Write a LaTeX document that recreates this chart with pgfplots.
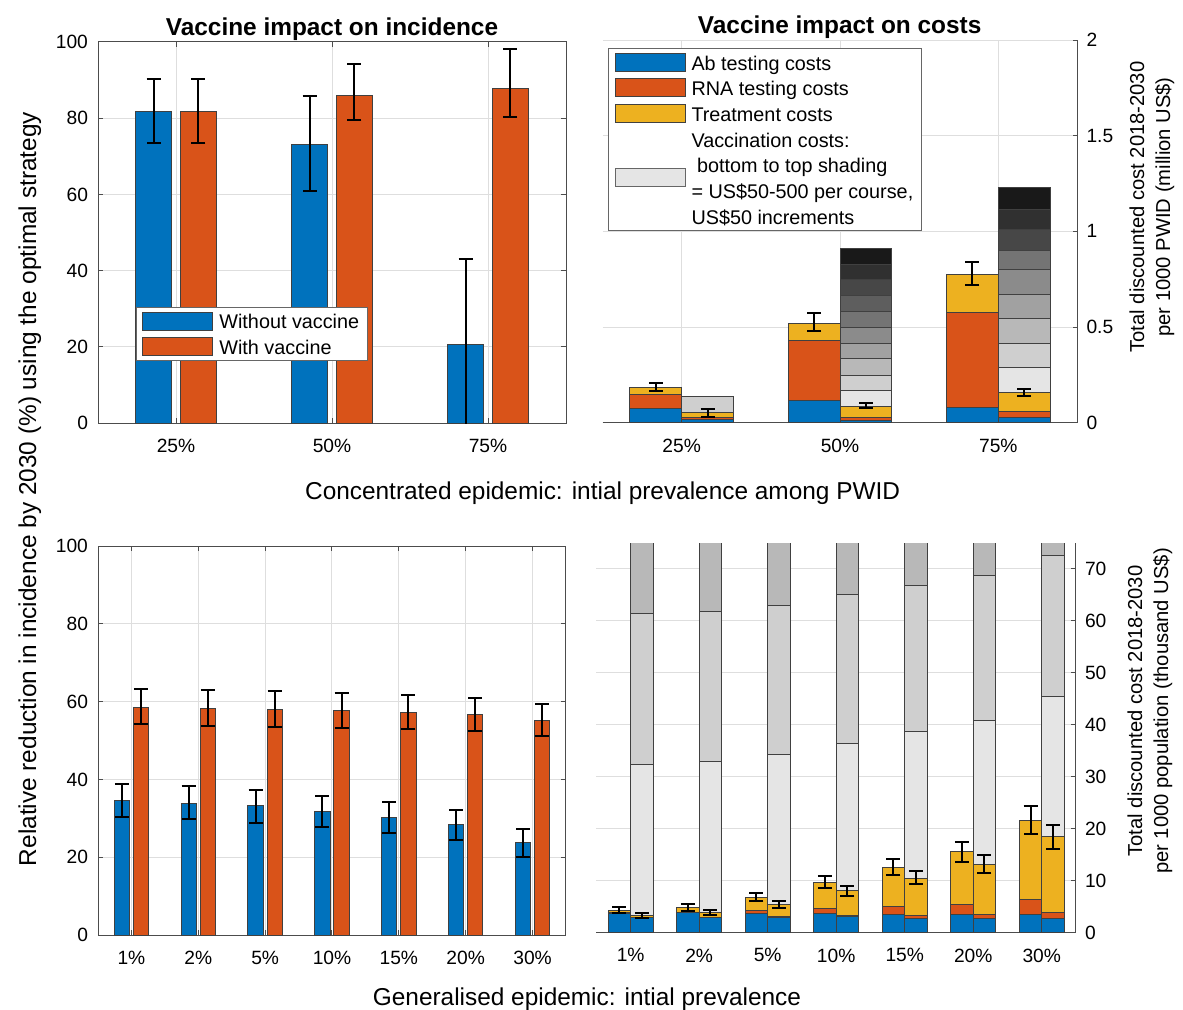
\documentclass[border=0pt]{standalone}
\usepackage{pgfplots}
\pgfplotsset{compat=1.18}
\usepackage{fontspec}
\setmainfont{Liberation Sans}
\definecolor{mblue}{RGB}{0,114,189}
\definecolor{morange}{RGB}{217,83,25}
\definecolor{myellow}{RGB}{237,177,32}
\definecolor{g1}{gray}{0.9}
\definecolor{g2}{gray}{0.811}
\definecolor{g3}{gray}{0.722}
\definecolor{g4}{gray}{0.633}
\definecolor{g5}{gray}{0.544}
\definecolor{g6}{gray}{0.456}
\definecolor{g7}{gray}{0.367}
\definecolor{g8}{gray}{0.278}
\definecolor{g9}{gray}{0.189}
\definecolor{g10}{gray}{0.1}
\definecolor{axc}{gray}{0.3}
\definecolor{gridc}{gray}{0.87}
\newcommand\lstrut{\rule[-3.6pt]{0pt}{12.85pt}}
\pgfplotsset{
  common/.style={
    scale only axis, anchor=south west,
    axis line style={draw=axc, line width=0.5pt},
    tick style={draw=axc, line width=0.5pt},
    major tick length=2.5pt,
    tick align=inside,
    grid=major,
    major grid style={draw=gridc, line width=0.5pt},
    tick label style={font=\fontsize{9.6}{11}\selectfont},
    /pgf/number format/assume math mode=true,
    xticklabel style={yshift=-4.5pt},
    legend cell align=left,
    legend style={draw=black!60, line width=0.5pt, fill=white,
      font=\fontsize{9.9}{12.85}\selectfont,
      inner xsep=3pt, inner ysep=1.5pt, row sep=2.1pt, column sep=2pt,
      nodes={inner ysep=0pt, inner xsep=1pt}},
  },
  mybar/.style={ybar, bar width=#1, bar shift=0pt, draw=black!75, line width=0.5pt, forget plot},
  eb/.style={draw=none, mark=none, forget plot, error bars/.cd, y dir=both, y explicit,
    error bar style={draw=black, line width=1pt, solid},
    error mark options={rotate=90, draw=black, line width=1pt, mark size=3.5pt}},
  patchlegend/.style={legend image code/.code={\draw[##1] (0pt,-4.5pt) rectangle (35pt,4.5pt);}},
  shiftpatch/.style={legend image code/.code={\path[draw=none, fill=none] (0pt,-4.5pt) rectangle (35pt,4.5pt);
      \draw[##1, overlay] (0pt,-10.9pt) rectangle (35pt,-1.9pt);}},
}
\begin{document}
\begin{tikzpicture}
\path[use as bounding box] (0,0) rectangle (591.5pt,504.5pt);

% ---------------- top left ----------------
\begin{axis}[common, at={(49pt,293pt)}, width=234pt, height=190.5pt,
  xmin=0.5, xmax=3.5, ymin=0, ymax=100,
  xtick={1,2,3}, xticklabels={25\%,50\%,75\%},
  ytick={0,20,40,60,80,100}, yticklabel style={xshift=-1.5pt},
  legend style={at={(0.081,0.3045)}, anchor=north west}]
\addplot[mybar=0.229, fill=mblue] coordinates {(0.857,81.7) (1.857,73.0) (2.857,20.7)};
\addplot[mybar=0.229, fill=morange] coordinates {(1.143,81.7) (2.143,85.9) (3.143,87.7)};
\addplot[eb] coordinates {(0.857,81.7) += (0,8.7) -= (0,8.1) (1.857,73.0) += (0,12.9) -= (0,12.0) (2.857,20.7) += (0,22.4) -= (0,25)};
\addplot[eb] coordinates {(1.143,81.7) += (0,8.7) -= (0,8.1) (2.143,85.9) += (0,8.2) -= (0,6.5) (3.143,87.7) += (0,10.4) -= (0,7.4)};
\addlegendimage{patchlegend, fill=mblue, draw=black!75}
\addlegendentry{\lstrut Without vaccine}
\addlegendimage{patchlegend, fill=morange, draw=black!75}
\addlegendentry{\lstrut With vaccine}
\end{axis}

% ---------------- top right ----------------
\begin{axis}[common, at={(301.25pt,293.15pt)}, width=237.5pt, height=191.35pt,
  xmin=0.5, xmax=3.5, ymin=0, ymax=2,
  axis x line*=bottom, axis y line*=right,
  xtick={1,2,3}, xticklabels={25\%,50\%,75\%},
  ytick={0,0.5,1,1.5,2}, yticklabel style={xshift=1pt},
  legend style={at={(0.0116,0.979)}, anchor=north west}]
% vaccination cost shading (right bars), tallest first
\addplot[mybar=0.327, fill=g10] coordinates {(2.1635,0.911) (3.1635,1.230)};
\addplot[mybar=0.327, fill=g9] coordinates {(2.1635,0.829) (3.1635,1.115)};
\addplot[mybar=0.327, fill=g8] coordinates {(2.1635,0.746) (3.1635,1.011)};
\addplot[mybar=0.327, fill=g7] coordinates {(2.1635,0.664)};
\addplot[mybar=0.327, fill=g6] coordinates {(2.1635,0.582) (3.1635,0.902)};
\addplot[mybar=0.327, fill=g5] coordinates {(2.1635,0.498) (3.1635,0.801)};
\addplot[mybar=0.327, fill=g4] coordinates {(2.1635,0.415) (3.1635,0.671)};
\addplot[mybar=0.327, fill=g3] coordinates {(2.1635,0.333) (3.1635,0.545)};
\addplot[mybar=0.327, fill=g2] coordinates {(1.1635,0.138) (2.1635,0.249) (3.1635,0.415)};
\addplot[mybar=0.327, fill=g1] coordinates {(2.1635,0.167) (3.1635,0.288)};
% treatment (cumulative top)
\addplot[mybar=0.327, fill=myellow] coordinates {(0.8365,0.185) (1.8365,0.521) (2.8365,0.772) (1.1635,0.051) (2.1635,0.087) (3.1635,0.160)};
% RNA testing (cumulative top)
\addplot[mybar=0.327, fill=morange] coordinates {(0.8365,0.145) (1.8365,0.432) (2.8365,0.576) (1.1635,0.028) (2.1635,0.028) (3.1635,0.057)};
% Ab testing
\addplot[mybar=0.327, fill=mblue] coordinates {(0.8365,0.072) (1.8365,0.117) (2.8365,0.080) (1.1635,0.019) (2.1635,0.012) (3.1635,0.026)};
\addplot[eb] coordinates {(0.8365,0.185) += (0,0.021) -= (0,0.019) (1.8365,0.521) += (0,0.051) -= (0,0.042) (2.8365,0.772) += (0,0.068) -= (0,0.051)
  (1.1635,0.051) += (0,0.021) -= (0,0.020) (2.1635,0.087) += (0,0.014) -= (0,0.010) (3.1635,0.160) += (0,0.016) -= (0,0.019)};
\addlegendimage{patchlegend, fill=mblue, draw=black!75}
\addlegendentry{\lstrut Ab testing costs}
\addlegendimage{patchlegend, fill=morange, draw=black!75}
\addlegendentry{\lstrut RNA testing costs}
\addlegendimage{patchlegend, fill=myellow, draw=black!75}
\addlegendentry{\lstrut Treatment costs}
\addlegendimage{empty legend}
\addlegendentry{\lstrut Vaccination costs:}
\addlegendimage{shiftpatch, fill=g1, draw=black!60}
\addlegendentry{\lstrut\ bottom to top shading}
\addlegendimage{empty legend}
\addlegendentry{\lstrut= US\$50-500 per course,}
\addlegendimage{empty legend}
\addlegendentry{\lstrut US\$50 increments}
\end{axis}

% ---------------- bottom left ----------------
\begin{axis}[common, at={(49pt,37pt)}, width=234pt, height=194.5pt,
  xmin=0.5, xmax=7.5, ymin=0, ymax=100,
  xtick={1,2,3,4,5,6,7}, xticklabels={1\%,2\%,5\%,10\%,15\%,20\%,30\%},
  ytick={0,20,40,60,80,100}, yticklabel style={xshift=-1.5pt}]
\addplot[mybar=0.229, fill=mblue] coordinates {(0.857,34.6) (1.857,33.9) (2.857,33.2) (3.857,31.7) (4.857,30.3) (5.857,28.4) (6.857,23.7)};
\addplot[mybar=0.229, fill=morange] coordinates {(1.143,58.4) (2.143,58.3) (3.143,58.0) (4.143,57.6) (5.143,57.2) (6.143,56.6) (7.143,55.2)};
\addplot[eb] coordinates {(0.857,34.6) += (0,4.1) -= (0,4.2) (1.857,33.9) += (0,4.4) -= (0,4.2) (2.857,33.2) += (0,4.2) -= (0,4.3)
  (3.857,31.7) += (0,4.1) -= (0,4.0) (4.857,30.3) += (0,3.9) -= (0,4.1) (5.857,28.4) += (0,3.8) -= (0,4.0) (6.857,23.7) += (0,3.5) -= (0,3.6)};
\addplot[eb] coordinates {(1.143,58.4) += (0,4.9) -= (0,4.2) (2.143,58.3) += (0,4.8) -= (0,4.5) (3.143,58.0) += (0,4.6) -= (0,4.4)
  (4.143,57.6) += (0,4.5) -= (0,4.3) (5.143,57.2) += (0,4.4) -= (0,4.3) (6.143,56.6) += (0,4.4) -= (0,4.2) (7.143,55.2) += (0,4.1) -= (0,4.1)};
\end{axis}

% ---------------- bottom right ----------------
\begin{axis}[common, at={(298.2pt,38.2pt)}, width=239.8pt, height=194.8pt,
  xmin=0.5, xmax=7.5, ymin=0, ymax=75,
  axis x line*=bottom, axis y line*=right,
  xtick={1,2,3,4,5,6,7}, xticklabels={1\%,2\%,5\%,10\%,15\%,20\%,30\%},
  ytick={0,10,20,30,40,50,60,70}, yticklabel style={xshift=1pt}]
\addplot[mybar=0.328, fill=g3] coordinates {(1.164,90) (2.164,90) (3.164,90) (4.164,90) (5.164,90) (6.164,90) (7.164,90)};
\addplot[mybar=0.328, fill=g2] coordinates {(1.164,61.4) (2.164,61.8) (3.164,63.0) (4.164,65.0) (5.164,66.9) (6.164,68.8) (7.164,72.6)};
\addplot[mybar=0.328, fill=g1] coordinates {(1.164,32.4) (2.164,32.9) (3.164,34.2) (4.164,36.4) (5.164,38.7) (6.164,40.9) (7.164,45.5)};
\addplot[mybar=0.328, fill=myellow] coordinates {(0.836,4.35) (1.836,4.92) (2.836,6.72) (3.836,9.68) (4.836,12.63) (5.836,15.7) (6.836,21.5)
  (1.164,3.26) (2.164,3.89) (3.164,5.37) (4.164,8.07) (5.164,10.5) (6.164,13.2) (7.164,18.47)};
\addplot[mybar=0.328, fill=morange] coordinates {(0.836,3.8) (1.836,3.95) (2.836,4.16) (3.836,4.67) (4.836,5.12) (5.836,5.5) (6.836,6.4)
  (1.164,2.95) (2.164,3.0) (3.164,3.05) (4.164,3.2) (5.164,3.38) (6.164,3.51) (7.164,3.96)};
\addplot[mybar=0.328, fill=mblue] coordinates {(0.836,3.7) (1.836,3.84) (2.836,3.71) (3.836,3.71) (4.836,3.58) (5.836,3.58) (6.836,3.39)
  (1.164,2.87) (2.164,2.87) (3.164,2.93) (4.164,3.07) (5.164,2.74) (6.164,2.68) (7.164,2.68)};
\addplot[eb] coordinates {(0.836,4.35) += (0,0.51) -= (0,0.64) (1.836,4.92) += (0,0.64) -= (0,0.70) (2.836,6.72) += (0,0.90) -= (0,0.70)
  (3.836,9.68) += (0,1.21) -= (0,1.16) (4.836,12.63) += (0,1.54) -= (0,1.48) (5.836,15.7) += (0,1.8) -= (0,2.05) (6.836,21.5) += (0,2.8) -= (0,2.5)};
\addplot[eb] coordinates {(1.164,3.26) += (0,0.58) -= (0,0.39) (2.164,3.89) += (0,0.51) -= (0,0.57) (3.164,5.37) += (0,0.71) -= (0,0.64)
  (4.164,8.07) += (0,0.90) -= (0,1.03) (5.164,10.5) += (0,1.42) -= (0,1.21) (6.164,13.2) += (0,1.74) -= (0,1.73) (7.164,18.47) += (0,2.23) -= (0,2.32)};
\end{axis}

% ---------------- titles and labels ----------------
\node[font=\fontsize{12.2}{14}\selectfont\bfseries, anchor=base] at (166pt,486.5pt) {Vaccine impact on incidence};
\node[font=\fontsize{12.2}{14}\selectfont\bfseries, anchor=base] at (419.85pt,487.5pt) {Vaccine impact on costs};
\node[font=\fontsize{12.2}{14}\selectfont, anchor=base] at (301.3pt,255pt) {Concentrated epidemic: intial prevalence among PWID};
\node[font=\fontsize{12.2}{14}\selectfont, anchor=base] at (293.5pt,2pt) {Generalised epidemic: intial prevalence};
\node[font=\fontsize{12.2}{14}\selectfont, anchor=base, rotate=90] at (18pt,260pt) {Relative reduction in incidence by 2030 (\%) using the optimal strategy};
\node[font=\fontsize{10.1}{13}\selectfont, align=center, rotate=90] at (576pt,401pt) {Total discounted cost 2018-2030\\per 1000 PWID (million US\$)};
\node[font=\fontsize{10.1}{13}\selectfont, align=center, rotate=90] at (575pt,149pt) {Total discounted cost 2018-2030\\per 1000 population (thousand US\$)};
\end{tikzpicture}
\end{document}
